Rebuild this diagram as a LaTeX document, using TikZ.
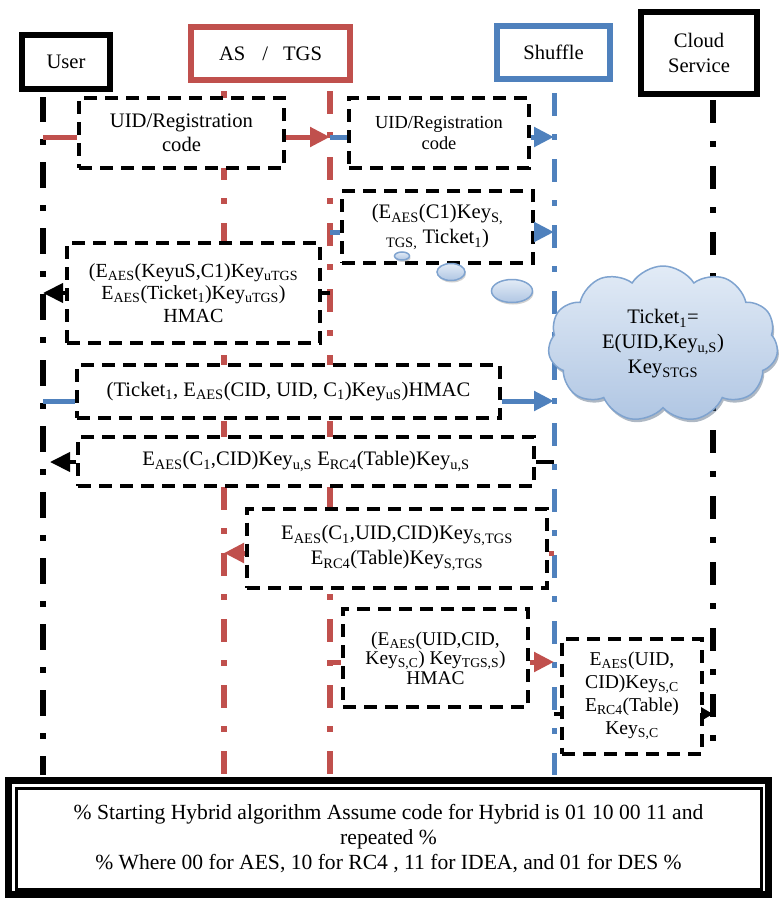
\documentclass[tikz,border=0pt]{standalone}
\usepackage{fontspec}
\setmainfont{Liberation Serif}
\usetikzlibrary{arrows.meta,shapes.symbols,shapes.geometric,shadows}

\definecolor{accRed}{HTML}{C0504D}
\definecolor{accBlue}{HTML}{4F81BD}
\definecolor{cloudTop}{HTML}{E2EBF6}
\definecolor{cloudBot}{HTML}{B0C6E3}
\definecolor{cloudEdge}{HTML}{7FA3CF}

\newcommand\sbs[1]{\textsubscript{#1}}

\begin{document}
\begin{tikzpicture}[x=1pt,y=-1pt,
  txt/.style={font=\fontsize{20.6}{#1}\selectfont},
  txt/.default=24,
  header/.style={draw, line width=6pt, fill=white, inner sep=0pt, align=center, txt},
  msgbox/.style={draw, line width=4pt, dash pattern=on 13pt off 8pt, fill=white,
                 inner sep=0pt, align=center},
  userline/.style={line width=6pt, dash pattern=on 26pt off 17pt on 6pt off 17pt},
  thinline/.style={line width=6pt, dash pattern=on 23pt off 18pt on 6pt off 19pt},
  redmsg/.style={accRed, line width=5pt},
  bluemsg/.style={accBlue, line width=5pt},
  blackmsg/.style={black, line width=4pt},
  bigtip/.style={-{Triangle[length=20pt,width=19pt]}},
  smalltip/.style={-{Triangle[length=12pt,width=13pt]}},
  bubble/.style={ellipse, draw=cloudEdge, line width=1.5pt, top color=cloudTop,
                 bottom color=cloudBot, inner sep=0pt,
                 drop shadow={shadow xshift=1pt, shadow yshift=-2pt, fill=black!40, opacity=.45}},
]
\useasboundingbox (0,0) rectangle (781,899);

% ---------- lifeline end points ----------
\coordinate (uL) at (43,97);   \coordinate (uE) at (43,775);
\coordinate (asL) at (224,90); \coordinate (asE) at (224,775);
\coordinate (tgL) at (330,90); \coordinate (tgE) at (330,775);
\coordinate (shL) at (554,93); \coordinate (shE) at (554,775);
\coordinate (csL) at (713,97); \coordinate (csE) at (713,745);

% ---------- message rows ----------
\coordinate (r1) at (0,137);
\coordinate (r2) at (0,232);
\coordinate (r3) at (0,293);
\coordinate (r4) at (0,401);
\coordinate (r5) at (0,462);
\coordinate (r6) at (0,553);
\coordinate (r7) at (0,662);
\coordinate (r8) at (0,714);

% ---------- lifelines ----------
\draw[userline, dash phase=1pt] (uL) -- (uE);
\draw[thinline, accRed, dash phase=65pt] (asL) -- (asE);
\draw[thinline, accRed, dash phase=65pt] (tgL) -- (tgE);
\draw[thinline, accBlue, line width=5pt, dash phase=0pt] (shL) -- (shE);
\draw[thinline, dash phase=63pt] (csL) -- (csE);

% ---------- participants ----------
\node[header, minimum width=88pt, minimum height=54pt] (user) at (66,62) {User};
\node[header, draw=accRed, minimum width=159pt, minimum height=53pt] (astgs) at (270.5,53.5)
  {AS\hspace{17pt}/\hspace{15pt}TGS};
\node[header, draw=accBlue, minimum width=113pt, minimum height=53pt] (shuffle) at (553.5,52.5) {Shuffle};
\node[header, txt=25, minimum width=116pt, minimum height=82pt] (cloudsvc) at (699,53) {Cloud\\Service};

% ---------- message boxes ----------
\node[msgbox, txt=24, minimum width=205pt, minimum height=70pt] (A) at (181.5,133)
  {UID/Registration\\code};
\node[msgbox, font=\fontsize{18.4}{21}\selectfont, minimum width=180pt, minimum height=70pt] (B) at (439,133)
  {UID/Registration\\code};
\node[msgbox, txt=25, minimum width=191pt, minimum height=72pt] (C) at (437.5,227)
  {(E\sbs{AES}(C1)Key\sbs{S,}\\\sbs{TGS,} Ticket\sbs{1})};
\node[msgbox, font=\fontsize{20}{22.5}\selectfont, minimum width=253pt, minimum height=100pt] (D) at (193.5,293)
  {(E\sbs{AES}(KeyuS,C1)Key\sbs{uTGS}\\E\sbs{AES}(Ticket\sbs{1})Key\sbs{uTGS})\\HMAC};
\node[msgbox, txt, minimum width=423pt, minimum height=53pt] (E) at (288.5,391.5)
  {(Ticket\sbs{1}, E\sbs{AES}(CID, UID, C\sbs{1})Key\sbs{uS})HMAC};
\node[msgbox, txt, minimum width=456pt, minimum height=49pt] (F) at (306,461.5)
  {E\sbs{AES}(C\sbs{1},CID)Key\sbs{u,S} E\sbs{RC4}(Table)Key\sbs{u,S}};
\node[msgbox, txt=25, minimum width=300pt, minimum height=79pt] (G) at (397,548)
  {E\sbs{AES}(C\sbs{1},UID,CID)Key\sbs{S,TGS}\\E\sbs{RC4}(Table)Key\sbs{S,TGS}};
\node[msgbox, font=\fontsize{19.4}{19.5}\selectfont, minimum width=185pt, minimum height=98pt] (H) at (435.5,658)
  {(E\sbs{AES}(UID,CID,\\Key\sbs{S,C}) Key\sbs{TGS,S})\\HMAC};
\node[msgbox, font=\fontsize{19.6}{23}\selectfont, minimum width=140pt, minimum height=115pt] (I) at (632,696)
  {E\sbs{AES}(UID,\\CID)Key\sbs{S,C}\\E\sbs{RC4}(Table)\\Key\sbs{S,C}};

% ---------- thought bubbles and ticket cloud ----------
\node[bubble, minimum width=15pt, minimum height=8pt] (b1) at (402,256) {};
\node[bubble, minimum width=28pt, minimum height=17pt] (b2) at (451,272) {};
\node[bubble, minimum width=41pt, minimum height=23pt] (b3) at (512,291) {};
\node[cloud, cloud puffs=11, cloud puff arc=115, aspect=1.55, draw=cloudEdge, line width=1.5pt,
      top color=cloudTop, bottom color=cloudBot, inner sep=0pt, align=center, txt=25,
      minimum width=230pt, minimum height=156pt,
      drop shadow={shadow xshift=1.5pt, shadow yshift=-3pt, fill=cloudEdge!60!black, opacity=.45}]
  (ticket) at (663,344) {Ticket\sbs{1}=\\E(UID,Key\sbs{u,S})\\Key\sbs{STGS}};

% ---------- messages ----------
\draw[redmsg] (uL |- r1) -- (A.west |- r1);
\draw[redmsg, bigtip] (A.east |- r1) -- (tgL |- r1);
\draw[bluemsg] (tgL |- r1) -- (B.west |- r1);
\draw[bluemsg, bigtip] (B.east |- r1) -- (shL |- r1);

\draw[bluemsg] (tgL |- r2) -- (C.west |- r2);
\draw[bluemsg, bigtip] (C.east |- r2) -- (shL |- r2);

\draw[blackmsg] (tgL |- r3) -- (D.east |- r3);
\draw[blackmsg, bigtip] (D.west |- r3) -- (uL |- r3);

\draw[bluemsg] (uL |- r4) -- (E.west |- r4);
\draw[bluemsg, bigtip] (E.east |- r4) -- (shL |- r4);

\draw[blackmsg] (shL |- r5) -- (F.east |- r5);
\draw[blackmsg, bigtip] (F.west |- r5) -- ([xshift=7pt]uL |- r5);

\draw[redmsg] (shL |- r6) -- (G.east |- r6);
\draw[redmsg, bigtip] (G.west |- r6) -- (asL |- r6);

\draw[redmsg] (tgL |- r7) -- (H.west |- r7);
\draw[redmsg, bigtip] (H.east |- r7) -- (shL |- r7);

\draw[blackmsg] (shL |- r8) -- (I.west |- r8);
\draw[blackmsg, smalltip] (I.east |- r8) -- (csL |- r8);

% ---------- hybrid algorithm note ----------
\node[draw, fill=white, line width=3pt, inner sep=0pt, align=center,
      font=\fontsize{21.6}{25}\selectfont,
      minimum width=745pt, minimum height=100.5pt] (note) at (388.5,838.75)
  {\% Starting Hybrid algorithm Assume code for Hybrid is 01 10 00 11 and\\
   repeated \%\\
   \% Where 00 for AES, 10 for RC4 , 11 for IDEA, and 01 for DES \%};
\draw[line width=7pt] ([xshift=-6pt,yshift=6.5pt]note.north west)
  rectangle ([xshift=6pt,yshift=-4pt]note.south east);
\end{tikzpicture}
\end{document}
